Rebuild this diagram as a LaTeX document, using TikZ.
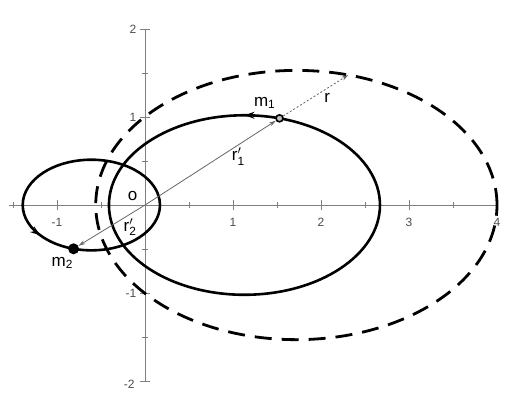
\documentclass[tikz,border=0pt]{standalone}
\usepackage{fontspec}
\setmainfont{Liberation Sans}
\setsansfont{Liberation Sans}
\usetikzlibrary{arrows.meta,decorations.markings}

\newcommand{\rprime}[1]{$\mathsf{r}'_{\mathsf{#1}}$}

\tikzset{
  axis/.style={draw=gray, line width=0.8pt},
  orbit/.style={line width=2.6pt},
  vec/.style={draw=gray!80!black, line width=0.8pt, -{Stealth[length=7pt,width=4pt]}},
  ticklbl/.style={font=\fontsize{12}{12}\selectfont, text=gray!60!black},
  lbl/.style={font=\fontsize{17}{17}\selectfont},
  orbitarrow/.style={postaction={decorate}, decoration={markings,
      mark=at position #1 with {\arrow{Stealth[length=10pt,width=7pt]}}}}
}

\begin{document}
\begin{tikzpicture}[x=88pt, y=88pt]

    \useasboundingbox (-1.648,-2.25) rectangle (4.284,2.33);

    % Axes
    \draw[axis] (-1.55,0) -- (4,0);
    \draw[axis] (0,-2) -- (0,2);

    % Ticks on the x-axis (every half unit)
    \foreach \x in {-1.5,-0.5,0.5,1.5,2.5,3.5} {
        \draw[axis] (\x,-0.035) -- (\x,0.035);
    }
    \foreach \x in {-1,1,2,3,4} {
        \draw[axis] (\x,-0.06) -- (\x,0.06);
    }

    % Ticks on the y-axis
    \foreach \y in {-1.5,-0.5,0.5,1.5} {
        \draw[axis] (-0.035,\y) -- (0.035,\y);
    }
    \foreach \y in {-2,-1,1,2} {
        \draw[axis] (-0.06,\y) -- (0.06,\y);
    }

    % Tick labels
    \foreach \x/\t in {-1/-1,1/1,2/2,3/3,4/4} {
        \node[ticklbl] (xl\x) at (\x,-0.2) {\t};
    }
    \foreach \y/\t in {2/2,1/1,-1/-1} {
        \node[ticklbl, anchor=east] (yl\y) at (-0.06,\y) {\t};
    }
    \node[ticklbl, anchor=east] (yl-2) at (-0.08,-2.04) {-2};

    % Relative orbit (dashed) and the two orbits
    \draw[line width=2.8pt, dash pattern=on 17pt off 10pt]
        (1.72,0) ellipse [x radius=2.28, y radius=1.53];
    \draw[orbit, orbitarrow=0.25] (1.13,0) ellipse [x radius=1.54, y radius=1.02];
    \draw[orbit, orbitarrow=0.6] (-0.61,0) ellipse [x radius=0.78, y radius=0.515];

    % Points
    \coordinate (O) at (0,0);
    \coordinate (R) at ([shift={(1.72,0)}]75:2.28 and 1.53);
    \node[circle, draw, fill=gray!50, line width=1.6pt, inner sep=0pt, minimum size=7pt]
        (m1) at ([shift={(1.13,0)}]75:1.54 and 1.02) {};
    \node[circle, fill=black, inner sep=0pt, minimum size=11pt]
        (m2) at ([shift={(-0.61,0)}]255:0.78 and 0.515) {};

    % Vectors
    \draw[vec] (O) -- (m1);
    \draw[vec] (O) -- (m2);
    \draw[vec, dash pattern=on 2pt off 2pt] (m1) -- (R);

    % Labels
    \node[lbl] (lo) at (-0.14,0.1) {o};
    \node[lbl] (lm1) at (1.36,1.16) {m\textsubscript{1}};
    \node[lbl] (lm2) at (-0.94,-0.66) {m\textsubscript{2}};
    \node[lbl] (lr) at (2.07,1.22) {r};
    \node[lbl] (lr1) at (1.06,0.55) {\rprime{1}};
    \node[lbl] (lr2) at (-0.17,-0.25) {\rprime{2}};

\end{tikzpicture}
\end{document}
